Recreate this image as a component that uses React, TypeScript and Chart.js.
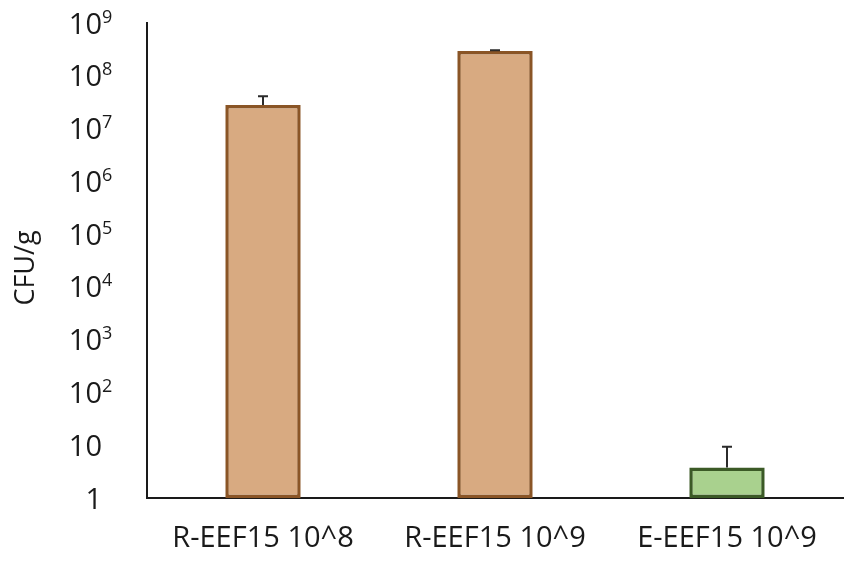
import React, { useEffect, useRef } from "react";
import { Chart, registerables } from "chart.js";

Chart.register(...registerables);

const categories = ["R-EEF15 10^8", "R-EEF15 10^9", "E-EEF15 10^9"];
const cfuValues = [2.8e7, 2.95e8, 3.8];
const cfuErrors = [1.3e7, 0.1e8, 5.6];
const decadeTicks = [1, 1e1, 1e2, 1e3, 1e4, 1e5, 1e6, 1e7, 1e8, 1e9];
const fillColors = ["#D8AA81", "#D8AA81", "#A9D18E"];
const borderColors = ["#8A5526", "#8A5526", "#3B5A26"];

const FONT = "'Open Sans', sans-serif";
const TEXT = "#1a1a1a";

const customDraw = {
  id: "customDraw",
  afterDatasetsDraw(chart: any) {
    const ctx = chart.ctx;
    const meta = chart.getDatasetMeta(0);
    const ys = chart.scales.y;
    ctx.save();
    ctx.strokeStyle = "#2b2b2b";
    ctx.lineWidth = 2;
    meta.data.forEach((bar: any, i: number) => {
      const v = cfuValues[i];
      const e = cfuErrors[i];
      const y0 = ys.getPixelForValue(v);
      const y1 = ys.getPixelForValue(v + e);
      ctx.beginPath();
      ctx.moveTo(bar.x, y0);
      ctx.lineTo(bar.x, y1);
      ctx.moveTo(bar.x - 5, y1);
      ctx.lineTo(bar.x + 5, y1);
      ctx.stroke();
    });
    ctx.restore();
  },
  afterDraw(chart: any) {
    const ctx = chart.ctx;
    const ys = chart.scales.y;
    ctx.save();
    ctx.fillStyle = TEXT;
    decadeTicks.forEach((t) => {
      const y = ys.getPixelForValue(t);
      const exp = Math.round(Math.log10(t));
      const base = exp === 0 ? "1" : "10";
      ctx.font = `29px ${FONT}`;
      ctx.textAlign = "right";
      ctx.textBaseline = "alphabetic";
      ctx.fillText(base, 102, y + 10.5);
      if (exp >= 2) {
        ctx.font = `18px ${FONT}`;
        ctx.textAlign = "left";
        ctx.fillText(String(exp), 102, y - 0.5);
      }
    });
    ctx.translate(26, 268);
    ctx.rotate(-Math.PI / 2);
    ctx.font = `27px ${FONT}`;
    ctx.textAlign = "center";
    ctx.textBaseline = "middle";
    ctx.fillText("CFU/g", 0, 0);
    ctx.restore();
  },
};

export default function App() {
  const ref = useRef<HTMLCanvasElement | null>(null);
  useEffect(() => {
    if (!ref.current) return;
    const chart = new Chart(ref.current, {
      type: "bar",
      data: {
        labels: categories,
        datasets: [
          {
            data: cfuValues,
            backgroundColor: fillColors,
            borderColor: borderColors,
            borderWidth: 3.5,
            borderSkipped: false,
            categoryPercentage: 1,
            barPercentage: 0.325,
          },
        ],
      },
      options: {
        animation: false,
        responsive: true,
        maintainAspectRatio: false,
        layout: { padding: { top: 23, right: 8, left: 0, bottom: 0 } },
        plugins: { legend: { display: false }, tooltip: { enabled: false } },
        scales: {
          x: {
            grid: { display: false },
            border: { display: true, color: "#1a1a1a", width: 2 },
            ticks: {
              color: TEXT,
              font: { family: FONT, size: 29 },
              padding: 15,
              maxRotation: 0,
            },
            afterFit(scale: any) {
              scale.height = 69;
            },
          },
          y: {
            type: "logarithmic",
            min: 1,
            max: 1e9,
            grid: { display: false },
            border: { display: true, color: "#1a1a1a", width: 2 },
            ticks: { display: false },
            afterBuildTicks(scale: any) {
              scale.ticks = decadeTicks.map((v) => ({ value: v }));
            },
            afterFit(scale: any) {
              scale.width = 147;
            },
          },
        },
      },
      plugins: [customDraw],
    });
    return () => chart.destroy();
  }, []);
  return (
    <div style={{ position: "fixed", left: 0, top: 0, width: 851, height: 567, background: "#fff" }}>
      <canvas ref={ref} />
    </div>
  );
}
